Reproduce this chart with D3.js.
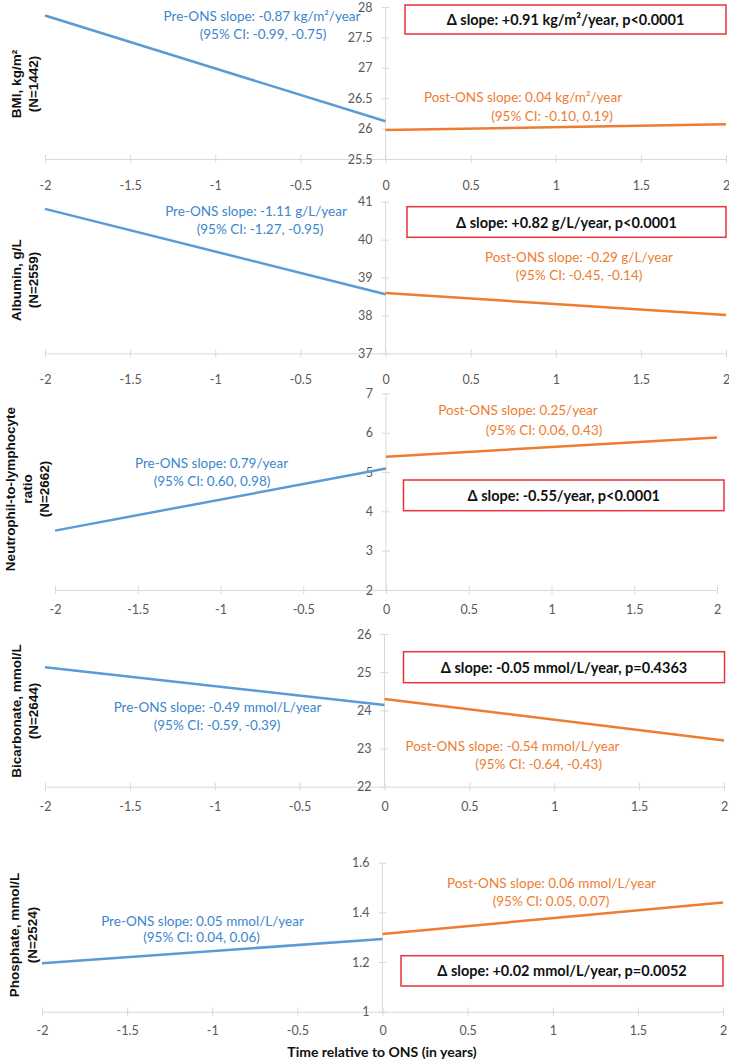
<!DOCTYPE html>
<html><head><meta charset="utf-8">
<script src="https://cdn.jsdelivr.net/npm/d3@7"></script>
<style>
html,body{margin:0;padding:0;background:#fff;}
svg{display:block;}
</style></head>
<body>
<script>
// ---------------- DATA ----------------
const measureLabels = [["BMI, kg/m²"], ["Albumin, g/L"], ["Neutrophil-to-lymphocyte", "ratio"], ["Bicarbonate, mmol/L"], ["Phosphate, mmol/L"]];
const sampleN = ["(N=1442)", "(N=2559)", "(N=2662)", "(N=2644)", "(N=2524)"];
const xTicks = [-2, -1.5, -1, -0.5, 0, 0.5, 1, 1.5, 2];
const yTicksBMI = [25.5, 26, 26.5, 27, 27.5, 28];
const yTicksAlb = [37, 38, 39, 40, 41];
const yTicksNLR = [2, 3, 4, 5, 6, 7];
const yTicksBic = [22, 23, 24, 25, 26];
const yTicksPho = [1, 1.2, 1.4, 1.6];
const preStart = [27.86, 40.81, 3.51, 25.13, 1.195];
const preEnd   = [26.12, 38.56, 5.09, 24.14, 1.293];
const postStart = [25.975, 38.59, 5.39, 24.30, 1.313];
const postEnd   = [26.07, 38.01, 5.88, 23.21, 1.44];
const preSlopeText = ["Pre-ONS slope: -0.87 kg/m²/year", "Pre-ONS slope: -1.11 g/L/year", "Pre-ONS slope: 0.79/year", "Pre-ONS slope: -0.49 mmol/L/year", "Pre-ONS slope: 0.05 mmol/L/year"];
const preCIText = ["(95% CI: -0.99, -0.75)", "(95% CI: -1.27, -0.95)", "(95% CI: 0.60, 0.98)", "(95% CI: -0.59, -0.39)", "(95% CI: 0.04, 0.06)"];
const postSlopeText = ["Post-ONS slope: 0.04 kg/m²/year", "Post-ONS slope: -0.29 g/L/year", "Post-ONS slope: 0.25/year", "Post-ONS slope: -0.54 mmol/L/year", "Post-ONS slope: 0.06 mmol/L/year"];
const postCIText = ["(95% CI: -0.10, 0.19)", "(95% CI: -0.45, -0.14)", "(95% CI: 0.06, 0.43)", "(95% CI: -0.64, -0.43)", "(95% CI: 0.05, 0.07)"];
const deltaText = ["Δ slope: +0.91 kg/m²/year, p<0.0001", "Δ slope: +0.82 g/L/year, p<0.0001", "Δ slope: -0.55/year, p<0.0001", "Δ slope: -0.05 mmol/L/year, p=0.4363", "Δ slope: +0.02 mmol/L/year, p=0.0052"];
const xTitle = "Time relative to ONS (in years)";
const yTickSets = [yTicksBMI, yTicksAlb, yTicksNLR, yTicksBic, yTicksPho];

// ---------------- LAYOUT ----------------
const W = 729, H = 1059;
const layout = [
  {x0: 45, x1: 726, yTop: 7,     yBot: 159,   labX: [16, 33],     labY: 84,  xPad: 18,
   pre: [[262, 16], [263, 34]], post: [[523, 97], [552, 116]], box: [405, 5, 726, 34]},
  {x0: 45, x1: 726, yTop: 201.7, yBot: 353.3, labX: [16, 33],     labY: 280, xPad: 18,
   pre: [[256, 211], [260, 229]], post: [[579, 256.7], [579, 275]], box: [407, 206.7, 726, 237.3]},
  {x0: 55, x1: 717, yTop: 393.4, yBot: 590,   labX: [10, 27, 44], labY: 489, xPad: 11,
   pre: [[211.5, 462.7], [212, 481]], post: [[518, 409.5], [544, 430]], box: [403.5, 480, 724, 510.7]},
  {x0: 45, x1: 724, yTop: 634,   yBot: 786.7, labX: [16, 33],     labY: 711, xPad: 11,
   pre: [[217.5, 706.7], [217, 725]], post: [[512.5, 746], [538.7, 764.3]], box: [403.5, 651.7, 724.5, 682.7]},
  {x0: 42, x1: 723, yTop: 862.7, yBot: 1011.7, labX: [14, 32],    labY: 935, xPad: 10,
   pre: [[202.5, 920.7], [201.5, 937.3]], post: [[551.5, 883.3], [551, 900.7]], box: [401, 955.7, 723, 986]}
];
const FONT = "Lato,'Open Sans',sans-serif";
const LABFONT = "'Liberation Sans',Arial,sans-serif";
const BLUE = "#5b9bd5", ORANGE = "#ed7d31", BLUE_T = "#3b86cc", AXIS = "#d9d9d9", TICK_T = "#595959";

const svg = d3.select("body").append("svg").attr("width", W).attr("height", H);

layout.forEach((L, i) => {
  const ticks = yTickSets[i];
  const x = d3.scaleLinear().domain([-2, 2]).range([L.x0, L.x1]);
  const y = d3.scaleLinear().domain([ticks[0], ticks[ticks.length - 1]]).range([L.yBot, L.yTop]);
  const g = svg.append("g");

  // x axis
  const xAx = g.append("g").attr("transform", `translate(0,${L.yBot})`)
    .call(d3.axisBottom(x).tickValues(xTicks).tickSize(4).tickPadding(L.xPad).tickFormat(d => String(d)));
  xAx.select(".domain").attr("stroke", AXIS).attr("stroke-width", 1);
  xAx.selectAll(".tick line").attr("stroke", AXIS).attr("y1", -4).attr("y2", 4);
  xAx.selectAll(".tick text").attr("fill", TICK_T).style("font-family", FONT).style("font-size", "12.5px");

  // y axis at x = 0
  const yAx = g.append("g").attr("transform", `translate(${x(0)},0)`)
    .call(d3.axisLeft(y).tickValues(ticks).tickSize(4).tickPadding(9).tickFormat(d => String(d)));
  yAx.select(".domain").attr("stroke", AXIS).attr("stroke-width", 1).attr("d", `M0,${L.yTop}V${L.yBot}`);
  yAx.selectAll(".tick line").attr("stroke", AXIS).attr("x1", -4).attr("x2", 4);
  yAx.selectAll(".tick text").attr("fill", TICK_T).style("font-family", FONT).style("font-size", "12.5px");

  // lines
  const line = d3.line().x(d => x(d[0])).y(d => y(d[1]));
  g.append("path").datum([[-2, preStart[i]], [0, preEnd[i]]]).attr("d", line)
    .attr("fill", "none").attr("stroke", BLUE).attr("stroke-width", 2.5);
  g.append("path").datum([[0, postStart[i]], [2, postEnd[i]]]).attr("d", line)
    .attr("fill", "none").attr("stroke", ORANGE).attr("stroke-width", 2.5);

  // annotations
  const txt = (p, s, col, w, fs) => g.append("text").attr("x", p[0]).attr("y", p[1])
    .attr("text-anchor", "middle").attr("dominant-baseline", "central")
    .style("font-family", FONT).style("font-size", (fs || 13.5) + "px").style("font-weight", w || "normal")
    .attr("fill", col).text(s);
  txt(L.pre[0], preSlopeText[i], BLUE_T);
  txt(L.pre[1], preCIText[i], BLUE_T);
  txt(L.post[0], postSlopeText[i], ORANGE);
  txt(L.post[1], postCIText[i], ORANGE);

  const b = L.box;
  g.append("rect").attr("x", b[0]).attr("y", b[1]).attr("width", b[2] - b[0]).attr("height", b[3] - b[1])
    .attr("fill", "#fff").attr("stroke", "#e8333b").attr("stroke-width", 1.5);
  txt([(b[0] + b[2]) / 2, (b[1] + b[3]) / 2], deltaText[i], "#111", "bold", 14.5);

  // y label
  const lines = measureLabels[i].concat([sampleN[i]]);
  lines.forEach((s, k) => {
    g.append("text").attr("transform", `translate(${L.labX[k]},${L.labY}) rotate(-90)`)
      .attr("text-anchor", "middle").attr("dominant-baseline", "central")
      .style("font-family", LABFONT).style("font-size", "13.5px").style("font-weight", "bold")
      .attr("fill", "#111").text(s);
  });
});

svg.append("text").attr("x", 382).attr("y", 1051).attr("text-anchor", "middle")
  .attr("dominant-baseline", "central").style("font-family", FONT).style("font-size", "14px")
  .style("font-weight", "bold").attr("fill", "#111").text(xTitle);
</script>
</body></html>
